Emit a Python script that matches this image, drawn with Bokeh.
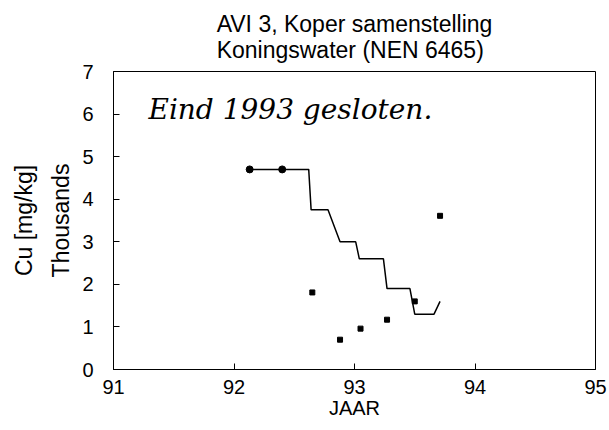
from bokeh.plotting import figure
from bokeh.models import Label, Range1d, FixedTicker, Title
from bokeh.embed import file_html
from bokeh.resources import INLINE

# data (JAAR, Cu thousands mg/kg)
line_x = [92.13, 92.40, 92.62, 92.64, 92.78, 92.88, 93.01, 93.04, 93.24, 93.27, 93.46, 93.50, 93.66, 93.71]
line_y = [4.7, 4.7, 4.7, 3.75, 3.75, 3.0, 3.0, 2.6, 2.6, 1.9, 1.9, 1.3, 1.3, 1.6]
dot_x = [92.13, 92.40]
dot_y = [4.7, 4.7]
pt_x = [92.65, 92.88, 93.05, 93.27, 93.50, 93.71]
pt_y = [1.81, 0.70, 0.96, 1.17, 1.60, 3.61]
x_ticks = [91, 92, 93, 94, 95]
y_ticks = [0, 1, 2, 3, 4, 5, 6, 7]
title_lines = ["AVI 3, Koper samenstelling", "Koningswater (NEN 6465)"]
y_label_lines = ["Cu [mg/kg]", "Thousands"]
x_label = "JAAR"
note = "Eind 1993 gesloten."

FONT = "Liberation Sans"

p = figure(width=609, height=430, output_backend="svg", toolbar_location=None,
           x_range=Range1d(91, 95), y_range=Range1d(0, 7),
           min_border_left=113, min_border_right=14, min_border_top=71, min_border_bottom=61)
p.grid.visible = False
p.outline_line_color = "black"
p.outline_line_width = 1
p.background_fill_color = "white"
p.border_fill_color = "white"

p.title = Title(text="\n".join(title_lines), align="center", text_font=FONT,
                text_font_size="23px", text_font_style="normal", text_color="black",
                text_line_height=1.0, standoff=17)

for ax in (p.xaxis[0], p.yaxis[0]):
    ax.axis_line_color = "black"
    ax.major_tick_line_color = "black"
    ax.major_tick_in = 6
    ax.major_tick_out = 0
    ax.minor_tick_line_color = None
    ax.major_label_text_font = FONT
    ax.major_label_text_font_size = "20px"
    ax.major_label_text_color = "black"
    ax.axis_label_text_font = FONT
    ax.axis_label_text_font_style = "normal"
    ax.axis_label_text_color = "black"
p.xaxis[0].ticker = FixedTicker(ticks=x_ticks)
p.yaxis[0].ticker = FixedTicker(ticks=y_ticks)
p.xaxis[0].major_label_standoff = 10
p.yaxis[0].major_label_standoff = 20
p.xaxis[0].axis_label = x_label
p.xaxis[0].axis_label_text_font_size = "20px"
p.xaxis[0].axis_label_standoff = 0
p.yaxis[0].axis_label = "\n".join(y_label_lines)
p.yaxis[0].axis_label_text_font_size = "23px"
p.yaxis[0].axis_label_text_line_height = 1.45
p.yaxis[0].axis_label_standoff = 5

p.line(line_x, line_y, line_color="black", line_width=1.5)
p.scatter(dot_x, dot_y, marker="circle", size=7, fill_color="black", line_color="black")
p.scatter(pt_x, pt_y, marker="square", size=5, fill_color="black", line_color="black")

p.add_layout(Label(x=91.29, y=6.1, text=note, text_font="DejaVu Serif", text_font_size="28px",
                   text_align="left", text_baseline="middle", text_font_style="italic",
                   text_color="black"))

open("out.html", "w").write(file_html(p, INLINE))
